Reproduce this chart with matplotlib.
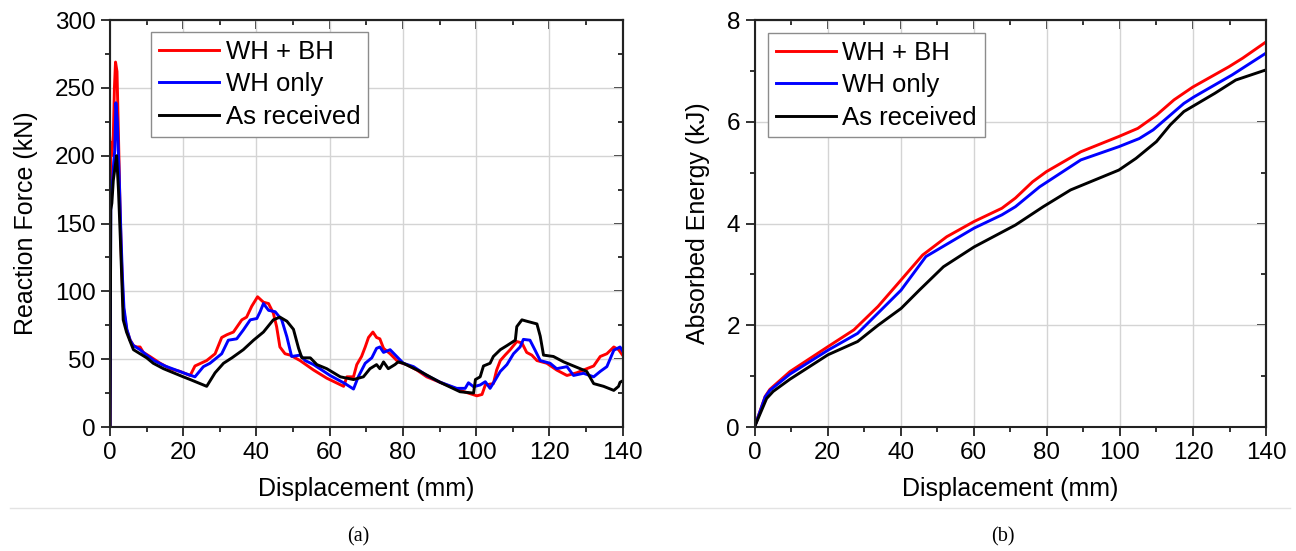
import numpy as np
import matplotlib
matplotlib.use("Agg")
import matplotlib.pyplot as plt
from matplotlib.ticker import MultipleLocator

plt.rcParams['font.family'] = ['Liberation Sans', 'DejaVu Sans']

# --- (a) reaction force vs displacement ---
red_x = [0, 0.15, 0.5, 0.9, 1.2, 1.5, 1.9, 2.3, 2.7, 3.1, 3.6, 4.5, 5.5, 6.4, 7.3, 8.2, 9.1,
         10.9, 13.7, 16.4, 19.1, 21.9, 23.2, 26.4, 28.7, 30.5, 31.9, 33.7, 36.0, 37.3, 38.7,
         40.3, 41.9, 43.3, 44.6, 45.5, 46.4, 47.8, 49.2, 51.9, 55.6, 59.2, 63.8, 64.7, 66.5,
         67.4, 68.7, 69.7, 70.6, 71.8, 72.8, 73.7, 74.7, 76.5, 78.7, 81.0, 83.8, 86.5, 90.1,
         95.6, 100.2, 101.6, 102.5, 104.7, 105.6, 106.6, 107.9, 109.3, 111.1, 112.5, 113.8,
         115.2, 116.6, 119.3, 122.0, 124.8, 127.5, 129.3, 132.1, 133.9, 135.7, 137.6, 138.9, 140]
red_f = [0, 210, 200, 215, 250, 269, 262, 215, 165, 125, 89, 72, 64, 60, 59, 59, 55,
         52, 47, 43, 41, 38, 45, 49, 54, 66, 68, 70, 79, 81, 89,
         96, 92, 91, 84, 74, 59, 54, 53, 49, 42, 36, 30, 37, 37,
         46, 52, 59, 66, 70, 66, 65, 58, 54, 48, 46, 42, 37, 33,
         27, 23, 24, 31, 32, 42, 49, 53, 57, 63, 62, 55,
         53, 49, 47, 42, 38, 40, 42, 45, 52, 54, 59, 57, 53]

blue_x = [0, 0.2, 0.5, 1.0, 1.3, 1.6, 2.0, 2.5, 3.0, 3.4, 3.8, 4.6, 5.5, 6.4, 8.2, 10, 12, 15,
          18, 21, 23.2, 25.5, 27.3, 30.5, 32.3, 34.6, 36.4, 38.3, 40.1, 41.0, 41.9, 43.3, 45.1,
          46.9, 48.3, 49.6, 51.9, 53.3, 55.6, 60.1, 64.2, 66.5, 67.8, 69.7, 71.5, 72.8, 73.7,
          74.7, 76.5, 78.3, 80.1, 82.9, 86.5, 90.2, 94.7, 97.0, 97.9, 99.3, 101.1, 102.5, 103.8,
          105.2, 106.6, 108.4, 110.2, 112.0, 112.9, 114.7, 116.1, 117.5, 120.2, 122.0, 124.8,
          126.6, 129.3, 132.1, 133.9, 135.7, 137.6, 139.3, 140]
blue_f = [0, 165, 173, 195, 204, 239, 225, 185, 140, 110, 88, 72, 64, 60, 57, 53, 49, 45,
          42, 39, 37, 44.5, 47, 54, 64, 65, 71.5, 79, 80, 85, 91, 86, 85,
          79, 66.5, 52, 53, 49, 46, 38, 32, 28, 37, 47, 51, 58, 59,
          55, 57, 52, 47, 44.5, 38, 33, 28.5, 28.5, 32.6, 29.7, 31, 33.4, 28.5,
          34.6, 41, 46, 54, 59, 64.6, 64, 56.6, 49, 47, 43, 44.5,
          38, 39.6, 37, 41, 44.5, 56.6, 59, 56]

black_x = [0, 0.2, 0.5, 0.9, 1.3, 1.8, 2.3, 2.8, 3.2, 3.6, 4.5, 5.5, 6.4, 8.2, 10, 11.8, 14.6,
           17.3, 20, 21.9, 24.6, 26.4, 28.7, 31.0, 33.3, 36.4, 39.2, 41.9, 44.6, 46.4, 48.3,
           50.1, 51.5, 52.4, 54.7, 56.5, 59.2, 62.9, 66.5, 69.2, 71.0, 72.8, 73.7, 74.7, 76.0,
           77.8, 78.7, 80.1, 84.7, 90.1, 95.6, 99.3, 99.8, 101.1, 102.0, 103.8, 104.7, 106.6,
           108.4, 110.7, 111.1, 112.5, 113.8, 116.6, 117.5, 118.4, 121.1, 123.9, 126.6, 130.2,
           132.1, 134.8, 137.6, 138.9, 139.3, 140]
black_f = [0, 160, 165, 182, 190, 200, 175, 140, 110, 79, 70, 63, 57, 54, 51, 47, 43,
           40, 37, 35, 32, 30, 40, 47, 51, 57, 64, 70, 79, 81, 78,
           72, 58, 51, 51, 46, 43, 37, 35, 37, 43, 46, 43, 48, 43,
           46, 48, 47, 41, 33, 26, 25, 35, 37, 45, 47, 52, 57,
           60, 64, 74, 79, 78, 76, 67, 53, 52, 48, 45, 41,
           32, 30, 27, 30, 33, 34]

# --- (b) absorbed energy vs displacement ---
e_red_x = [0, 2.9, 4.2, 9.7, 20.1, 27.2, 33.8, 40.1, 46.0, 52.6, 60.1, 67.7, 71.4, 76.1, 79.9,
           89.3, 99.7, 104.9, 110.0, 114.8, 119.9, 129.8, 133.6, 140]
e_red = [0, 0.60, 0.74, 1.09, 1.58, 1.91, 2.37, 2.89, 3.38, 3.74, 4.04, 4.30, 4.50, 4.82, 5.02,
         5.41, 5.71, 5.87, 6.13, 6.43, 6.68, 7.08, 7.25, 7.57]

e_blue_x = [0, 2.9, 4.2, 9.7, 20.1, 28.2, 40.1, 46.9, 60.1, 67.7, 71.4, 78.0, 89.3, 99.7, 105.3,
            109.1, 117.5, 120.3, 130.7, 140]
e_blue = [0, 0.59, 0.72, 1.04, 1.51, 1.84, 2.69, 3.35, 3.91, 4.17, 4.33, 4.72, 5.25, 5.51, 5.67,
          5.84, 6.36, 6.49, 6.92, 7.35]

e_black_x = [0, 3.3, 5.1, 9.7, 20.1, 28.2, 33.8, 40.1, 45.1, 51.7, 60.1, 71.4, 79.0, 86.5, 99.7,
             104.4, 110.0, 113.8, 117.5, 126.0, 131.7, 140]
e_black = [0, 0.56, 0.70, 0.94, 1.42, 1.68, 2.00, 2.33, 2.69, 3.15, 3.54, 3.97, 4.33, 4.66, 5.05,
           5.28, 5.61, 5.94, 6.20, 6.56, 6.82, 7.02]

labels = ['WH + BH', 'WH only', 'As received']
colors = ['#ff0000', '#0000ff', '#000000']

TICK_FS = 17.5
LABEL_FS = 18
LEGEND_FS = 18.5
SPINE_C = '#222222'


def style_axes(ax, xmax, ymax, ymajor, yminor):
    ax.set_xlim(0, xmax)
    ax.set_ylim(0, ymax)
    ax.xaxis.set_major_locator(MultipleLocator(20))
    ax.xaxis.set_minor_locator(MultipleLocator(10))
    ax.yaxis.set_major_locator(MultipleLocator(ymajor))
    ax.yaxis.set_minor_locator(MultipleLocator(yminor))
    ax.grid(True, which='major', color='#d4d4d4', linewidth=1.0)
    ax.set_axisbelow(True)
    for s in ax.spines.values():
        s.set_linewidth(1.5)
        s.set_color(SPINE_C)
    ax.tick_params(which='both', direction='out', top=False, right=False,
                   color=SPINE_C, width=1.3, labelsize=TICK_FS, pad=4)
    ax.tick_params(which='major', length=6.5)
    ax.tick_params(which='minor', length=3.4)

    # inward ticks on the top and right frame
    top = ax.secondary_xaxis('top')
    top.xaxis.set_major_locator(MultipleLocator(20))
    top.xaxis.set_minor_locator(MultipleLocator(10))
    top.tick_params(which='both', direction='in', labeltop=False, color=SPINE_C, width=1.3)
    top.tick_params(which='major', length=6.5)
    top.tick_params(which='minor', length=3.4)
    top.spines['top'].set_linewidth(1.5)
    top.spines['top'].set_color(SPINE_C)
    right = ax.secondary_yaxis('right')
    right.yaxis.set_major_locator(MultipleLocator(ymajor))
    right.yaxis.set_minor_locator(MultipleLocator(yminor))
    right.tick_params(which='both', direction='in', labelright=False, color=SPINE_C, width=1.3)
    right.tick_params(which='major', length=6.5)
    right.tick_params(which='minor', length=3.4)
    right.spines['right'].set_linewidth(1.5)
    right.spines['right'].set_color(SPINE_C)


def add_legend(ax, anchor):
    leg = ax.legend(loc='upper left', bbox_to_anchor=anchor, borderaxespad=0,
                    fontsize=LEGEND_FS, frameon=True, fancybox=False, framealpha=1,
                    edgecolor='#8c8c8c', handlelength=2.35, handletextpad=0.25,
                    labelspacing=0.33, borderpad=0.3)
    leg.get_frame().set_linewidth(1.0)


fig = plt.figure(figsize=(12.96, 5.51), dpi=100)

ax1 = fig.add_axes([0.0849, 0.2250, 0.3955, 0.7387])
for xs, ys, lab, c in zip([red_x, blue_x, black_x], [red_f, blue_f, black_f], labels, colors):
    ax1.plot(xs, ys, color=c, lw=2.1, label=lab)
style_axes(ax1, 140, 300, 50, 25)
ax1.set_xlabel('Displacement (mm)', fontsize=LABEL_FS, labelpad=10)
ax1.set_ylabel('Reaction Force (kN)', fontsize=LABEL_FS, labelpad=12)
add_legend(ax1, (0.080, 0.970))

ax2 = fig.add_axes([0.5822, 0.2250, 0.3947, 0.7387])
for xs, ys, lab, c in zip([e_red_x, e_blue_x, e_black_x], [e_red, e_blue, e_black], labels, colors):
    ax2.plot(xs, ys, color=c, lw=2.1, label=lab)
style_axes(ax2, 140, 8, 2, 1)
ax2.set_xlabel('Displacement (mm)', fontsize=LABEL_FS, labelpad=10)
ax2.set_ylabel('Absorbed Energy (kJ)', fontsize=LABEL_FS, labelpad=12)
add_legend(ax2, (0.026, 0.968))

# caption separator and sub-figure labels
fig.add_artist(plt.Line2D([10 / 1296, 1290 / 1296], [1 - 508 / 551] * 2,
                          color='#e3e3e3', lw=1.0))
fig.text(358 / 1296, 1 - 537 / 551, '(a)', ha='center', va='center',
         fontsize=14.5, family=['Liberation Serif', 'DejaVu Serif'])
fig.text(1003 / 1296, 1 - 537 / 551, '(b)', ha='center', va='center',
         fontsize=14.5, family=['Liberation Serif', 'DejaVu Serif'])

fig.savefig('out.png', dpi=100)
